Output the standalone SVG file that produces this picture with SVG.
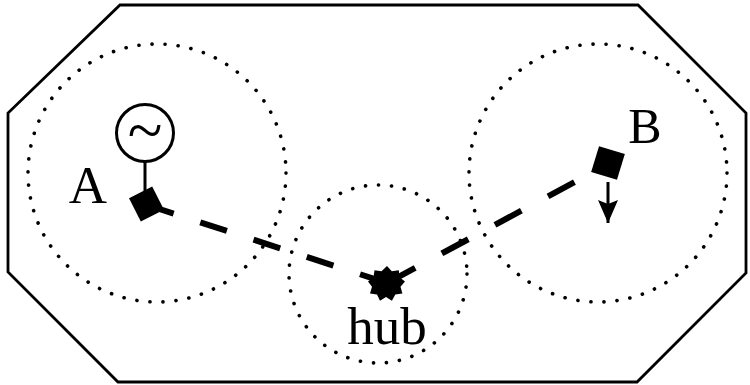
<svg xmlns="http://www.w3.org/2000/svg" width="750" height="385" viewBox="0 0 750 385">
  <style>
    .frame { fill: none; stroke: #000; stroke-width: 2.8; }
    .range { fill: none; stroke: #000; stroke-width: 3.6; stroke-dasharray: 0.1 13; stroke-linecap: round; }
    .link { fill: none; stroke: #000; stroke-width: 6; }
    .label { font-family: "Liberation Serif", "Times New Roman", serif; fill: #000; }
  </style>
  <defs>
    <marker id="arrow" viewBox="0 0 23 20" refX="23" refY="10" markerWidth="23" markerHeight="20" orient="auto" markerUnits="userSpaceOnUse">
      <path d="M0,0 L23,10 L0,20 L4,10 z" fill="#000"/>
    </marker>
  </defs>
  <rect width="750" height="385" fill="#fff"/>
  <polygon class="frame" points="120,5 638,5 746,113 746,273 637,382 118,382 8,272 8,113"/>

  <g id="ranges">
    <circle class="range" cx="157" cy="173" r="129"/>
    <circle class="range" cx="598" cy="173" r="129"/>
    <circle class="range" cx="378" cy="274" r="89"/>
  </g>

  <g id="connectors">
    <path class="link" d="M147,205 L387,283" stroke-dasharray="28 28"/>
    <path class="link" d="M387,283 L608,164" stroke-dasharray="30 30.3" stroke-dashoffset="-2"/>
  </g>

  <g id="node-A">
    <line x1="145" y1="162" x2="145" y2="200" stroke="#000" stroke-width="3"/>
    <circle cx="145" cy="133" r="28.5" fill="#fff" stroke="#000" stroke-width="3"/>
    <text class="label" x="145" y="152" font-size="64" text-anchor="middle">~</text>
    <rect x="133.5" y="191" width="26" height="26" fill="#000" transform="rotate(-27 146.5 204)"/>
    <text class="label" x="88" y="203" font-size="53" text-anchor="middle">A</text>
  </g>

  <g id="node-hub">
    <polygon points="387,266 391.8,271.3 398.8,270.2 399.5,277.2 405,281.5 400.5,286.8 402.4,293.6 395.3,294.6 391.9,300.8 386,297 380,300.8 377,294.6 370,293.6 372,286.8 368,281.5 373.5,277.2 374.5,270.2 381.5,271.3" fill="#000"/>
    <text class="label" x="387" y="344" font-size="53" text-anchor="middle">hub</text>
  </g>

  <g id="node-B">
    <rect x="594.5" y="149.5" width="27" height="27" fill="#000" transform="rotate(17 608 163)"/>
    <line x1="608" y1="182" x2="608" y2="223" stroke="#000" stroke-width="3" marker-end="url(#arrow)"/>
    <text class="label" x="645" y="143" font-size="50" text-anchor="middle">B</text>
  </g>
</svg>
